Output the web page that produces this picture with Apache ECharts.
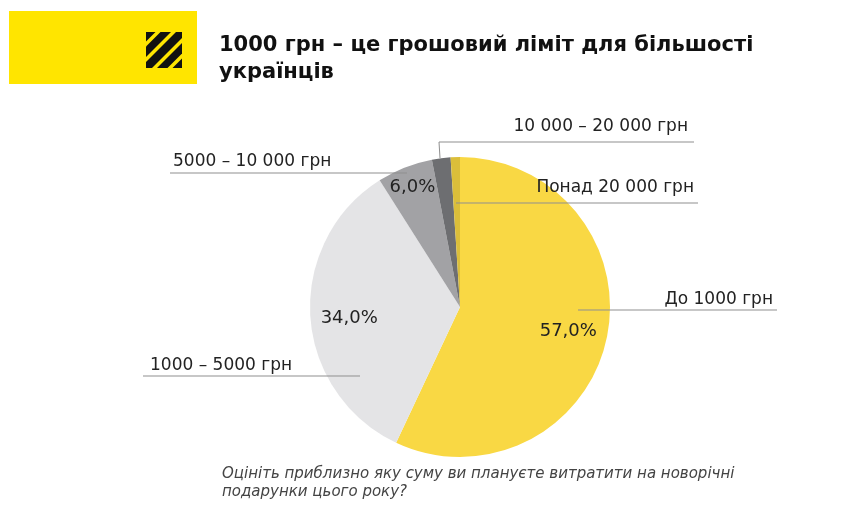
<!DOCTYPE html>
<html>
<head>
<meta charset="utf-8">
<script src="https://cdn.jsdelivr.net/npm/echarts@6/dist/echarts.min.js"></script>
<style>
  html, body { margin: 0; background: #fff; }
  #chart { width: 848px; height: 528px; }
</style>
</head>
<body>
<div id="chart"></div>
<script>
// дані
const names = ['До 1000 грн', '1000 – 5000 грн', '5000 – 10 000 грн', '10 000 – 20 000 грн', 'Понад 20 000 грн']
const shares = [57, 34, 6, 2, 1]
const colors = ['#F9D844', '#E4E4E6', '#A2A2A5', '#6D6E71', '#DBBE3A']
const titleText = '1000 грн – це грошовий ліміт для більшості\nукраїнців'
const questionText = 'Оцініть приблизно яку суму ви плануєте витратити на новорічні\nподарунки цього року?'

const FONT = '"DejaVu Sans", Inter, sans-serif'

// розкладка підписів (тільки позиції, не дані)
const labelSpots = [
  { x: 773, lineY: 310, gap: 6, align: 'right', pts: [[578, 310], [578, 310], [777, 310]] },
  { x: 150, lineY: 376, gap: 6, align: 'left', pts: [[360, 376], [360, 376], [143, 376]] },
  { x: 173, lineY: 173, gap: 7, align: 'left', pts: [[407, 173], [388, 173], [170, 173]] },
  { x: 688, lineY: 142, gap: 11, align: 'right', pts: [[440, 158], [439, 142], [694, 142]] },
  { x: 694, lineY: 203, gap: 11, align: 'right', pts: [[456, 203], [456, 203], [698, 203]] },
]

// логотип: смуги "////" у квадраті
function clipBand(x0, y0, s, u1, u2) {
  let poly = [[0, 0], [s, 0], [s, s], [0, s]]
  const clip = (pts, keep, cross) => {
    const out = []
    for (let i = 0; i < pts.length; i++) {
      const a = pts[i], b = pts[(i + 1) % pts.length]
      const ka = keep(a), kb = keep(b)
      if (ka) out.push(a)
      if (ka !== kb) out.push(cross(a, b))
    }
    return out
  }
  const cut = (u) => (a, b) => {
    const ua = a[0] + a[1], ub = b[0] + b[1]
    const t = (u - ua) / (ub - ua)
    return [a[0] + (b[0] - a[0]) * t, a[1] + (b[1] - a[1]) * t]
  }
  poly = clip(poly, (p) => p[0] + p[1] >= u1, cut(u1))
  poly = clip(poly, (p) => p[0] + p[1] <= u2, cut(u2))
  return poly.map((p) => [x0 + p[0], y0 + p[1]])
}
const bands = [[0, 9.5], [14.5, 25], [30, 42], [47, 57.5], [62.5, 72]]
const logo = bands.map(([a, b]) => ({
  type: 'polygon',
  shape: { points: clipBand(146, 32, 36, a, b) },
  style: { fill: '#111' },
}))

const chart = echarts.init(document.getElementById('chart'), null, { renderer: 'canvas' })

const pieData = names.map((n, i) => ({ name: n, value: shares[i], itemStyle: { color: colors[i] } }))
const ghostData = names.map((n, i) => ({ name: n, value: shares[i] }))
const ghost = { color: 'rgba(0,0,0,0)' }

chart.setOption({
  animation: false,
  backgroundColor: '#fff',
  graphic: [
    { type: 'rect', shape: { x: 9, y: 11, width: 188, height: 73 }, style: { fill: '#FFE500' } },
    ...logo,
    {
      type: 'text', left: 219, top: 32,
      style: { text: titleText, font: `bold 21px ${FONT}`, fill: '#111', lineHeight: 27 },
    },
    {
      type: 'text', left: 222, top: 465,
      style: { text: questionText, font: `italic 15px ${FONT}`, fill: '#444', lineHeight: 18 },
    },
  ],
  series: [
    // сектори
    {
      type: 'pie',
      center: [460, 307],
      radius: 150,
      startAngle: 90,
      clockwise: true,
      silent: true,
      data: pieData,
      label: { show: false },
      labelLine: { show: false },
    },
    // відсотки всередині
    {
      type: 'pie',
      z: 3,
      center: [460, 307],
      radius: [70, 150],
      startAngle: 90,
      clockwise: true,
      silent: true,
      data: ghostData,
      itemStyle: ghost,
      label: {
        show: true,
        position: 'inside',
        formatter: (p) => (p.value >= 5 ? `${p.value},0%` : ''),
        fontFamily: FONT,
        fontSize: 18,
        color: '#222',
      },
      labelLine: { show: false },
      labelLayout: (p) => {
        if (p.dataIndex === 2) return { dx: -6, dy: -15 }
        if (p.dataIndex === 1) return { dx: 2, dy: 4 }
        if (p.dataIndex === 0) return { dx: -2 }
        return {}
      },
    },
    // назви з виносками
    {
      type: 'pie',
      z: 4,
      center: [460, 307],
      radius: 150,
      startAngle: 90,
      clockwise: true,
      silent: true,
      data: ghostData,
      itemStyle: ghost,
      label: {
        show: true,
        position: 'outside',
        formatter: '{b}',
        fontFamily: FONT,
        fontSize: 17,
        color: '#222',
        lineHeight: 17,
      },
      labelLine: { show: true, lineStyle: { color: '#8f8f8f', width: 1 } },
      labelLayout: (p) => {
        const s = labelSpots[p.dataIndex]
        return {
          x: s.x, y: s.lineY - s.gap + 4, align: s.align, verticalAlign: 'bottom',
          labelLinePoints: s.pts,
        }
      },
    },
  ],
})
</script>
</body>
</html>
